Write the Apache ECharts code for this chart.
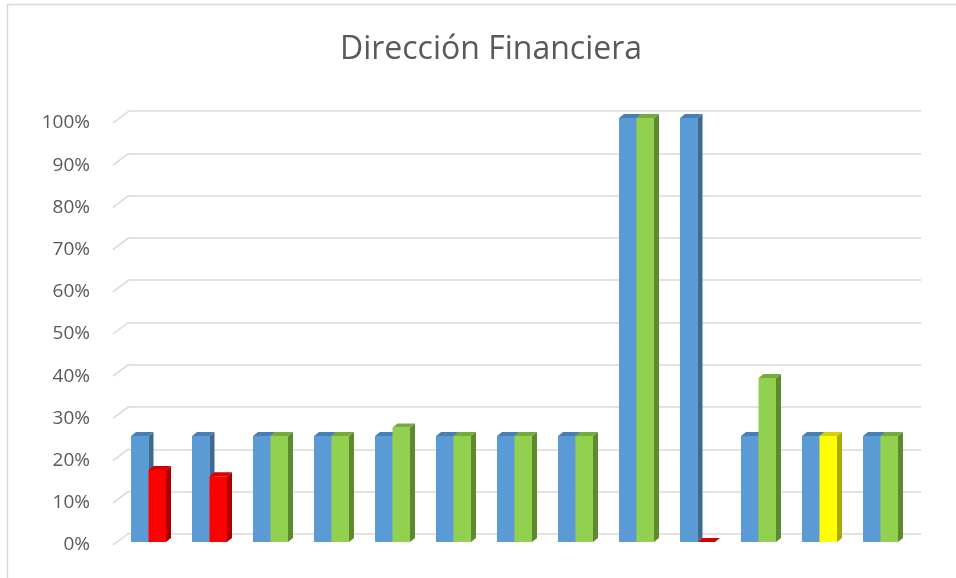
<!DOCTYPE html>
<html>
<head>
<meta charset="utf-8">
<script src="https://cdn.jsdelivr.net/npm/echarts@6/dist/echarts.min.js"></script>
<style>
  html, body { margin: 0; padding: 0; background: #fff; }
  #chart { width: 956px; height: 578px; }
</style>
</head>
<body>
<div id="chart"></div>
<script>
const categories = ['1', '2', '3', '4', '5', '6', '7', '8', '9', '10', '11', '12', '13']
const planned = [25, 25, 25, 25, 25, 25, 25, 25, 100, 100, 25, 25, 25]
const actual = [17, 15.5, 25, 25, 27, 25, 25, 25, 100, 0, 38.7, 25, 25]
const yTicks = [0, 10, 20, 30, 40, 50, 60, 70, 80, 90, 100]

// colores de la segunda serie (semaforo)
const actualColors = ['red', 'red', 'green', 'green', 'green', 'green', 'green', 'green', 'green', 'red', 'green', 'yellow', 'green']

const palette = {
  blue: { front: '#5B9BD5', top: '#477FB5', side: '#3D6A94' },
  green: { front: '#92D050', top: '#76AB3C', side: '#5E8A2F' },
  red: { front: '#FF0000', top: '#D40000', side: '#A80000' },
  yellow: { front: '#FFFF00', top: '#D2D200', side: '#A9A900' }
}

const DX = 5, DY = 4

function bar3d(colorOf, side) {
  return function (params, api) {
    const v = api.value(1)
    const base = api.coord([api.value(0), 0])
    const top = api.coord([api.value(0), v])
    const band = api.size([1, 0])[0]
    const w = band * 0.287
    const x0 = side === 0 ? base[0] - w : base[0]
    const x1 = x0 + w
    const c = palette[colorOf(params.dataIndex)]
    return {
      type: 'group',
      children: [
        { type: 'rect', shape: { x: x0, y: top[1], width: w, height: base[1] - top[1] }, style: { fill: c.front } },
        { type: 'polygon', shape: { points: [[x1, top[1]], [x1 + DX, top[1] - DY], [x1 + DX, base[1] - DY], [x1, base[1]]] }, style: { fill: c.side } },
        { type: 'polygon', shape: { points: [[x0, top[1]], [x0 + DX, top[1] - DY], [x1 + DX, top[1] - DY], [x1, top[1]]] }, style: { fill: c.top } }
      ]
    }
  }
}

const chart = echarts.init(document.getElementById('chart'), null, { renderer: 'canvas' })

chart.setOption({
  animation: false,
  title: {
    text: 'Dirección Financiera',
    left: 486,
    textAlign: 'center',
    top: 29,
    textStyle: { color: '#595959', fontSize: 32, fontWeight: 'normal', fontFamily: 'Open Sans' }
  },
  graphic: [
    {
      type: 'rect',
      shape: { x: 7.5, y: 4.5, width: 960, height: 600 },
      style: { fill: 'none', stroke: '#D9D9D9', lineWidth: 1.5 },
      silent: true
    }
  ],
  grid: [
    // pared del fondo
    { left: 129, right: 35, top: 111, bottom: 44 },
    // plano frontal de las barras
    { left: 118, right: 45, top: 118, bottom: 36 },
    // etiquetas y diagonales
    { left: 113, right: 45, top: 123, bottom: 33 }
  ],
  xAxis: [
    { gridIndex: 0, type: 'value', min: 0, max: 1, show: false },
    { gridIndex: 1, type: 'category', data: categories, show: false },
    { gridIndex: 2, type: 'value', min: 0, max: 1, show: false }
  ],
  yAxis: [
    {
      gridIndex: 0, type: 'value', min: 0, max: 100, interval: 10,
      axisLabel: { show: false }, axisLine: { show: false }, axisTick: { show: false },
      splitLine: { lineStyle: { color: '#D9D9D9', width: 1.5 } }
    },
    { gridIndex: 1, type: 'value', min: 0, max: 100, show: false },
    {
      gridIndex: 2, type: 'value', min: 0, max: 100, interval: 10,
      axisLine: { show: false }, axisTick: { show: false }, splitLine: { show: false },
      axisLabel: { color: '#595959', fontSize: 19, fontFamily: 'Open Sans', margin: 23, formatter: '{value}%' }
    }
  ],
  series: [
    {
      type: 'custom',
      xAxisIndex: 2,
      yAxisIndex: 2,
      silent: true,
      data: yTicks.map(t => [0, t]),
      renderItem: function (params, api) {
        const p = api.coord([0, api.value(1)])
        return {
          type: 'line',
          shape: { x1: p[0], y1: p[1], x2: p[0] + 16, y2: p[1] - 12 },
          style: { stroke: '#D9D9D9', lineWidth: 1.5 }
        }
      }
    },
    {
      name: 'Planeado',
      type: 'custom',
      xAxisIndex: 1,
      yAxisIndex: 1,
      data: planned.map((v, i) => [i, v]),
      renderItem: bar3d(() => 'blue', 0)
    },
    {
      name: 'Real',
      type: 'custom',
      xAxisIndex: 1,
      yAxisIndex: 1,
      data: actual.map((v, i) => [i, v]),
      renderItem: bar3d(i => actualColors[i], 1)
    }
  ]
})

window.addEventListener('resize', function () {
  chart && chart.resize()
})
</script>
</body>
</html>
